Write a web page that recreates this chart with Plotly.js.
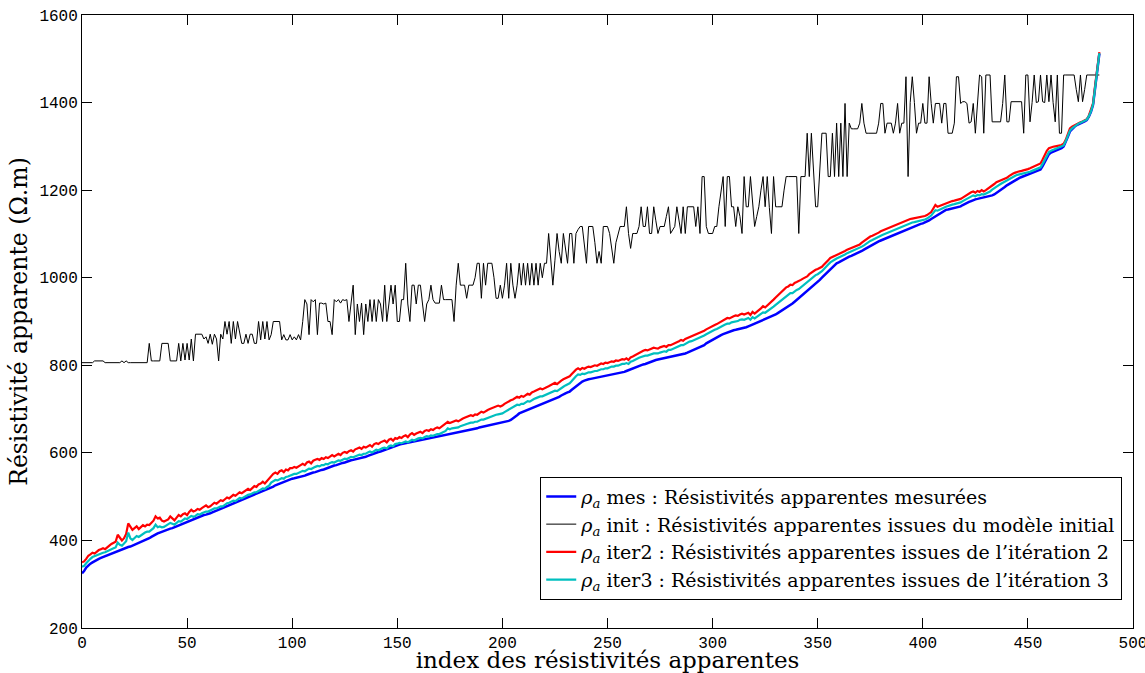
<!DOCTYPE html>
<html><head><meta charset="utf-8">
<script src="https://cdn.plot.ly/plotly-3.0.1.min.js"></script>
<style>html,body{margin:0;padding:0;background:#fff}#chart{width:1145px;height:673px}</style>
</head><body><div id="chart"></div>
<script>
const rhoMes = [
325,330,338,343,347,350,353,357,358,360,
362,363,365,367,369,371,373,375,377,379,
381,383,385,386,388,390,392,394,396,398,
400,402,405,408,411,414,416,418,420,422,
424,425,427,428,430,432,434,436,438,441,
443,445,447,449,451,453,455,456,458,459,
460,462,464,466,468,470,472,474,476,478,
480,482,484,486,488,490,492,494,496,498,
500,502,504,506,508,510,512,514,516,518,
520,523,526,528,530,532,534,536,538,540,
541,542,543,544,545,547,548,550,552,553,
555,556,558,559,561,562,564,566,568,570,
571,572,574,575,577,578,580,581,583,584,
585,586,588,589,590,591,593,595,597,599,
600,602,603,605,606,608,610,612,614,616,
618,619,620,621,622,623,624,625,626,627,
628,629,629,630,631,632,633,634,635,636,
637,638,639,640,641,642,643,644,645,646,
647,648,649,650,651,652,653,654,656,658,
659,660,661,662,663,664,665,666,667,669,
670,671,672,673,675,678,682,686,690,692,
694,696,698,700,702,704,706,708,709,711,
713,716,718,720,722,724,726,728,731,734,
736,738,740,744,748,752,756,760,763,765,
767,768,769,770,771,772,773,774,774,775,
776,777,778,779,780,781,782,783,785,787,
789,791,793,795,797,799,801,802,803,805,
807,809,811,812,813,814,815,816,817,818,
820,821,822,823,824,825,826,827,829,831,
833,835,837,839,841,843,846,850,853,856,
859,862,864,866,869,871,873,875,877,879,
880,881,882,883,884,885,887,889,891,893,
895,897,899,901,903,905,907,909,911,913,
916,919,922,925,928,931,934,937,941,945,
949,953,957,961,965,969,973,977,981,985,
990,995,1000,1005,1010,1015,1020,1025,1030,1033,
1035,1038,1041,1044,1046,1048,1050,1052,1054,1056,
1058,1061,1064,1067,1070,1073,1076,1079,1081,1083,
1085,1087,1089,1091,1093,1095,1098,1100,1102,1104,
1106,1108,1110,1112,1114,1116,1118,1120,1121,1123,
1124,1126,1128,1131,1134,1137,1140,1144,1148,1151,
1153,1155,1156,1157,1158,1159,1160,1161,1163,1166,
1169,1171,1173,1175,1178,1179,1180,1181,1182,1183,
1184,1185,1186,1188,1190,1193,1196,1199,1203,1207,
1211,1214,1216,1219,1222,1225,1228,1230,1232,1234,
1235,1237,1239,1241,1243,1245,1247,1255,1265,1275,
1282,1286,1288,1290,1292,1294,1296,1300,1310,1322,
1334,1340,1344,1348,1351,1353,1355,1357,1360,1368,
1379,1395,1436,1475,1512
];
const rhoInit = [
806,806,806,806,806,806,810,810,810,810,
810,806,806,806,806,806,806,806,806,810,
806,810,806,806,806,806,806,806,806,806,
806,806,850,810,810,810,810,810,850,850,
850,850,810,810,810,810,850,810,850,812,
850,812,860,810,871,871,871,871,860,865,
850,871,848,871,860,810,871,860,900,871,
900,850,900,860,900,871,850,850,871,850,
871,871,850,850,900,858,900,860,900,858,
870,900,900,900,900,858,870,858,858,870,
858,865,858,870,858,900,950,940,870,950,
945,950,870,942,942,940,942,900,900,870,
950,945,950,942,950,948,950,900,940,983,
870,940,900,942,870,940,900,950,900,950,
900,950,940,900,983,900,940,983,940,983,
900,900,950,950,1033,940,900,983,983,940,
983,983,940,900,940,950,983,950,942,942,
942,983,950,950,950,950,950,900,983,1033,
983,983,983,953,983,983,983,1000,1033,1033,
953,1033,983,1033,1033,1033,1000,953,953,983,
953,983,1033,953,1033,983,953,983,1033,983,
1033,983,1033,983,1033,983,1033,983,1033,1000,
1033,1033,1101,1040,983,1040,1101,1060,1033,1101,
1060,1033,1101,1101,1033,1101,1110,1117,1117,1080,
1033,1117,1117,1117,1080,1033,1060,1033,1117,1117,
1117,1101,1060,1033,1080,1101,1117,1117,1117,1162,
1101,1067,1101,1101,1101,1117,1162,1117,1117,1162,
1101,1101,1162,1130,1101,1117,1117,1117,1140,1162,
1101,1110,1117,1162,1130,1101,1162,1101,1162,1162,
1162,1162,1117,1162,1101,1231,1231,1117,1101,1101,
1101,1117,1117,1162,1200,1231,1117,1231,1231,1162,
1162,1117,1162,1140,1101,1231,1162,1162,1231,1180,
1117,1140,1162,1200,1231,1162,1231,1160,1101,1231,
1162,1162,1162,1162,1200,1231,1231,1231,1231,1231,
1231,1101,1231,1231,1231,1330,1231,1330,1231,1162,
1162,1250,1330,1330,1330,1231,1231,1330,1231,1353,
1231,1353,1231,1398,1231,1353,1340,1340,1340,1340,
1353,1398,1353,1330,1330,1330,1330,1330,1330,1353,
1398,1398,1330,1353,1353,1353,1330,1353,1398,1330,
1353,1353,1459,1231,1400,1459,1400,1330,1353,1353,
1398,1353,1353,1459,1398,1353,1398,1398,1398,1353,
1398,1398,1330,1330,1330,1353,1459,1459,1398,1402,
1402,1398,1353,1356,1398,1330,1398,1463,1459,1330,
1463,1463,1463,1356,1356,1356,1356,1356,1398,1463,
1356,1356,1402,1402,1402,1402,1402,1402,1330,1463,
1463,1356,1400,1463,1400,1402,1463,1402,1400,1463,
1402,1463,1400,1356,1463,1330,1330,1463,1463,1463,
1463,1463,1463,1430,1402,1463,1402,1430,1463,1463,
1463,1463,1463,1463,1463
];
const rhoIter2 = [
350,352,358,365,368,372,370,375,378,380,
382,380,385,388,392,395,397,413,405,400,
405,415,439,430,424,428,432,426,430,435,
432,436,435,440,445,455,450,452,445,443,
445,448,455,450,446,452,458,455,460,462,
458,465,470,466,468,472,470,474,478,480,
476,478,482,486,484,488,492,490,495,498,
496,500,504,502,506,510,508,512,516,518,
515,520,524,522,528,530,534,530,536,540,
548,552,555,552,558,560,556,562,560,565,
565,568,566,570,572,575,572,578,580,576,
582,584,586,584,588,586,590,588,592,595,
592,596,598,595,600,602,600,604,606,603,
608,610,612,609,614,612,616,618,614,620,
622,620,624,626,628,624,630,632,628,634,
632,636,634,638,640,636,642,645,641,644,
646,648,645,650,652,650,654,652,656,658,
656,660,662,666,671,668,670,672,674,672,
676,678,680,682,684,686,684,688,687,690,
694,692,696,698,700,702,704,706,708,706,
708,712,715,718,720,722,725,728,726,730,
728,732,735,733,738,740,742,744,747,745,
748,750,752,755,758,760,757,762,765,768,
770,772,775,780,786,790,793,790,794,792,
795,797,796,798,800,799,802,804,803,806,
805,807,809,808,811,810,812,814,813,816,
812,818,820,823,826,828,831,833,835,834,
836,838,840,839,838,841,843,844,842,846,
846,848,850,852,855,858,856,860,862,865,
866,868,870,872,874,877,879,882,885,888,
890,892,894,897,900,903,906,908,907,910,
912,914,913,916,918,916,918,920,915,922,
918,923,926,930,935,932,936,940,944,950,
955,960,965,970,975,978,980,984,983,988,
990,992,995,998,1000,1003,1008,1012,1015,1018,
1020,1022,1025,1030,1036,1040,1045,1048,1050,1052,
1054,1056,1058,1061,1064,1066,1068,1070,1071,1073,
1076,1080,1084,1088,1091,1094,1096,1098,1100,1103,
1106,1108,1110,1112,1115,1117,1119,1121,1123,1125,
1127,1129,1130,1132,1134,1135,1136,1137,1138,1139,
1139,1141,1143,1146,1150,1158,1166,1162,1164,1166,
1168,1170,1172,1173,1175,1176,1177,1178,1180,1183,
1186,1190,1193,1195,1197,1194,1198,1196,1200,1197,
1200,1203,1206,1210,1214,1218,1220,1222,1224,1226,
1228,1232,1236,1238,1240,1242,1243,1244,1245,1246,
1248,1250,1252,1254,1256,1258,1261,1270,1280,1290,
1296,1298,1299,1300,1301,1302,1303,1306,1315,1328,
1341,1345,1348,1351,1353,1355,1357,1359,1362,1370,
1382,1398,1440,1478,1515
];
const rhoIter3 = [
340,342,348,354,358,362,364,367,368,370,
372,373,376,378,380,382,384,395,390,388,
392,398,418,405,401,406,410,408,412,416,
418,420,420,424,428,436,430,432,430,431,
434,436,440,438,436,440,444,443,446,450,
449,452,456,454,456,460,459,462,464,466,
466,468,470,473,473,476,478,478,482,485,
486,488,491,490,494,497,496,499,502,504,
505,507,510,510,514,516,519,518,522,525,
532,535,538,537,540,542,541,545,546,548,
550,552,552,555,556,559,558,562,564,563,
566,568,570,569,572,572,575,574,577,579,
578,581,583,582,585,587,586,589,591,590,
593,594,596,595,598,598,601,603,601,605,
607,606,609,611,612,610,615,617,615,620,
621,623,622,625,626,624,628,630,628,631,
633,634,633,636,638,637,640,639,642,643,
643,645,647,650,656,654,656,657,658,658,
661,662,664,666,668,669,669,671,671,673,
676,676,678,680,682,683,685,687,688,689,
690,693,696,699,702,704,707,710,709,712,
712,715,718,717,721,723,725,727,729,729,
731,733,735,738,740,742,741,745,748,751,
754,756,759,764,770,775,779,778,781,780,
782,784,784,786,787,787,789,791,791,793,
793,795,797,797,799,799,801,803,803,805,
803,808,810,813,815,817,819,821,822,822,
824,826,827,827,827,829,831,832,831,835,
835,837,839,841,844,846,846,849,851,854,
855,857,859,861,863,866,868,871,874,877,
879,881,883,886,888,891,893,895,895,898,
899,901,901,904,905,904,906,908,904,910,
907,911,914,917,921,920,923,926,929,934,
938,942,946,950,955,958,961,965,965,969,
972,974,978,982,986,990,995,999,1002,1006,
1008,1011,1015,1020,1026,1030,1035,1039,1041,1044,
1046,1048,1050,1053,1056,1058,1060,1062,1064,1066,
1068,1071,1074,1078,1081,1084,1086,1089,1091,1093,
1096,1098,1100,1102,1105,1107,1109,1111,1113,1115,
1117,1119,1120,1122,1124,1126,1127,1128,1129,1130,
1131,1133,1135,1138,1142,1148,1154,1153,1156,1159,
1160,1162,1164,1165,1167,1168,1169,1170,1172,1175,
1178,1181,1184,1186,1188,1186,1189,1188,1191,1190,
1192,1194,1197,1201,1205,1208,1211,1214,1217,1220,
1222,1225,1228,1231,1233,1235,1236,1237,1238,1239,
1240,1242,1244,1246,1248,1250,1252,1260,1270,1280,
1287,1290,1292,1294,1296,1297,1299,1302,1312,1324,
1336,1341,1345,1349,1352,1354,1356,1358,1361,1369,
1380,1396,1437,1476,1513
];
const xTicks = [0,50,100,150,200,250,300,350,400,450,500];
const yTicks = [200,400,600,800,1000,1200,1400,1600];
const names = [
  '<i>ρ</i><sub><i>a</i></sub> mes : Résistivités apparentes mesurées',
  '<i>ρ</i><sub><i>a</i></sub> init : Résistivités apparentes issues du modèle initial',
  '<i>ρ</i><sub><i>a</i></sub> iter2 : Résistivités apparentes issues de l’itération 2',
  '<i>ρ</i><sub><i>a</i></sub> iter3 : Résistivités apparentes issues de l’itération 3'
];
const idx = a => a.map((_, i) => i);
const series = [rhoMes, rhoInit, rhoIter2, rhoIter3];
const colors = ['#0000ff', '#000000', '#ff0000', '#00bfbf'];
const widths = [2.5, 1, 2.2, 2.2];
const traces = series.map((s, k) => ({
  x: idx(s), y: s, type: 'scatter', mode: 'lines', name: names[k],
  line: {color: colors[k], width: widths[k]}
}));
const serif = 'DejaVu Serif, Liberation Serif, serif';
const tickFont = {family: 'Liberation Mono, DejaVu Sans Mono, monospace', size: 16, color: '#000'};
const layout = {
  width: 1145, height: 673,
  margin: {l: 82, r: 12, t: 15, b: 45, autoexpand: false},
  paper_bgcolor: '#fff', plot_bgcolor: '#fff',
  showlegend: true,
  legend: {
    x: 0.436, y: 0.247, xanchor: 'left', yanchor: 'top',
    bgcolor: '#fff', bordercolor: '#000', borderwidth: 1,
    font: {family: serif, size: 19, color: '#000'},
    traceorder: 'normal', itemwidth: 30
  },
  xaxis: {
    range: [0, 500], tickvals: xTicks, ticktext: xTicks.map(String), automargin: false,
    ticks: 'inside', ticklen: 10, tickcolor: '#000', showline: true, linecolor: '#000', linewidth: 1,
    mirror: 'ticks', showgrid: false, zeroline: false, tickfont: tickFont, ticklabeloverflow: 'allow',
    title: {text: 'index des résistivités apparentes', font: {family: serif, size: 23, color: '#000'}, standoff: 8}
  },
  yaxis: {
    range: [200, 1600], tickvals: yTicks, ticktext: yTicks.map(String), automargin: false,
    ticks: 'inside', ticklen: 10, tickcolor: '#000', showline: true, linecolor: '#000', linewidth: 1,
    mirror: 'ticks', showgrid: false, zeroline: false, tickfont: tickFont, ticklabeloverflow: 'allow',
    title: {text: 'Résistivité apparente (Ω.m)', font: {family: serif, size: 23.5, color: '#000'}, standoff: 5}
  }
};
Plotly.newPlot('chart', traces, layout, {displayModeBar: false, staticPlot: true});
</script>
</body></html>
